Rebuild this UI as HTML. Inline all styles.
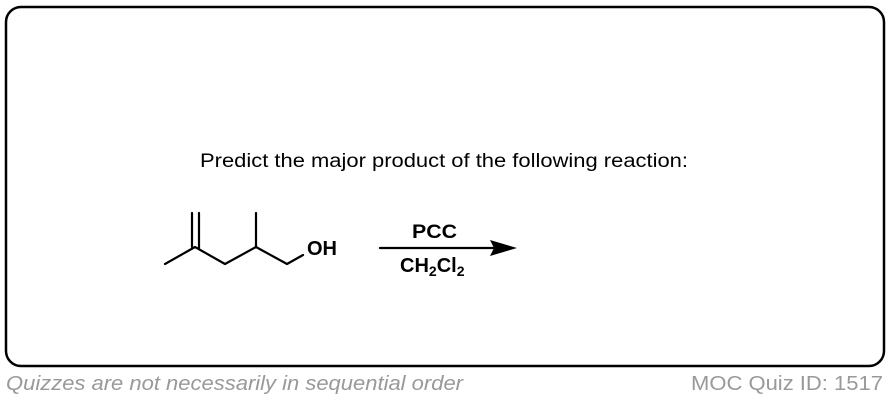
<!DOCTYPE html>
<html><head><meta charset="utf-8"><style>
html,body{margin:0;padding:0;background:#fff;}
svg{display:block;}
</style></head><body>
<svg width="890" height="400" viewBox="0 0 890 400" xmlns="http://www.w3.org/2000/svg">
<rect x="6" y="7" width="878" height="359" rx="15" ry="15" fill="#fff" stroke="#000" stroke-width="2.5"/>
<text x="200" y="167" font-family="Liberation Sans, sans-serif" font-size="19" fill="#000" textLength="488" lengthAdjust="spacingAndGlyphs">Predict the major product of the following reaction:</text>
<g stroke="#000" stroke-width="2.2" fill="none" stroke-linecap="round" stroke-linejoin="round">
<polyline points="165,264 195,247 225,264 256,247 287,264 303,255"/>
<line x1="192" y1="213" x2="192" y2="247"/>
<line x1="199" y1="213" x2="199" y2="249"/>
<line x1="256" y1="213" x2="256" y2="247"/>
<line x1="380" y1="248" x2="495" y2="248"/>
</g>
<polygon points="517,248 490,240 494,248 490,256" fill="#000"/>
<text x="307" y="255" font-family="Liberation Sans, sans-serif" font-weight="bold" font-size="20" fill="#000">OH</text>
<text x="412" y="238" font-family="Liberation Sans, sans-serif" font-weight="bold" font-size="19" fill="#000" textLength="45" lengthAdjust="spacingAndGlyphs">PCC</text>
<text x="400" y="272" font-family="Liberation Sans, sans-serif" font-weight="bold" font-size="20" fill="#000">CH<tspan font-size="14" dy="4">2</tspan><tspan dy="-4">Cl</tspan><tspan font-size="14" dy="4">2</tspan></text>
<text x="6" y="390" font-family="Liberation Sans, sans-serif" font-style="italic" font-size="20" fill="#999" textLength="457" lengthAdjust="spacingAndGlyphs">Quizzes are not necessarily in sequential order</text>
<text x="691" y="390" font-family="Liberation Sans, sans-serif" font-size="20" fill="#999" textLength="192" lengthAdjust="spacingAndGlyphs">MOC Quiz ID: 1517</text>
</svg>
</body></html>
